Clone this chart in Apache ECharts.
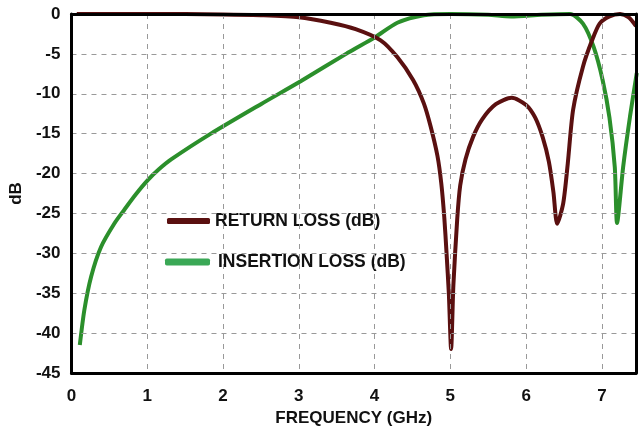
<!DOCTYPE html>
<html>
<head>
    <meta charset="utf-8">
    <title>Return / insertion loss</title>
    <script src="https://cdn.jsdelivr.net/npm/echarts@6/dist/echarts.min.js"></script>
    <style>
        html, body { margin: 0; padding: 0; background: #fff; }
        #chart1 { width: 639px; height: 439px; }
    </style>
</head>
<body>
<div id="chart1"></div>
<script type="text/javascript">
    // 读自图片的数据 (GHz, dB)
    var returnLoss = [
        [0.07, 0], [1, 0], [2, -0.05], [2.5, -0.15], [3, -0.4], [3.42, -1.1], [3.75, -1.9],
        [4.08, -3.3], [4.3, -5.4], [4.51, -8.3], [4.65, -11.2], [4.74, -14.1], [4.83, -17.8],
        [4.88, -21.2], [4.92, -25.5], [4.95, -30], [4.98, -35], [5.01, -42], [5.04, -34],
        [5.09, -25.8], [5.13, -21.5], [5.2, -18.2], [5.3, -15.4], [5.42, -13.2], [5.6, -11.3],
        [5.81, -10.5], [6.0, -11.4], [6.12, -13], [6.22, -15.5], [6.3, -18.5], [6.36, -22.3],
        [6.41, -26.3], [6.49, -23.7], [6.55, -18.7], [6.62, -12], [6.75, -6.6], [6.87, -3.3],
        [6.97, -1.2], [7.1, -0.3], [7.24, 0], [7.35, -0.4], [7.45, -1.5]
    ];
    var insertionLoss = [
        [0.11, -41.5], [0.17, -37.1], [0.26, -32.9], [0.39, -29.2], [0.57, -26.2], [0.7, -24.5],
        [0.85, -22.6], [1.01, -20.8], [1.15, -19.5], [1.32, -18.2], [1.84, -15], [2.5, -11.3],
        [3.03, -8.4], [3.64, -4.9], [4.01, -2.9], [4.3, -1.1], [4.65, -0.15], [5, 0], [5.5, -0.1],
        [5.8, -0.3], [6.2, -0.1], [6.58, 0], [6.75, -1.2], [6.89, -4.1], [7.01, -8.3], [7.1, -13],
        [7.17, -19.2], [7.2, -26.2], [7.28, -19.2], [7.37, -12.9], [7.46, -7.4]
    ];
    var seriesNames = ['RETURN LOSS (dB)', 'INSERTION LOSS (dB)'];

    var myChart1 = echarts.init(document.getElementById('chart1'));
    var font = 'Liberation Sans, Arial, sans-serif';
    var labelStyle = { fontFamily: font, fontWeight: 'bold', fontSize: 17, color: '#111' };
    var gridLine = { show: true, lineStyle: { type: [5, 5], color: '#999', width: 1 } };
    var frame = { show: true, onZero: false, lineStyle: { color: '#000', width: 3 } };

    myChart1.setOption({
        animation: false,
        backgroundColor: '#fff',
        grid: { left: 70, right: 2, top: 14, bottom: 66 },
        legend: [{
            data: [{ name: seriesNames[0], itemStyle: { color: '#5a1010' } }],
            left: 167, top: 212, padding: 0,
            icon: 'roundRect', itemWidth: 43, itemHeight: 6,
            textStyle: { fontFamily: font, fontWeight: 'bold', fontSize: 17.5, color: '#111' }
        }, {
            data: [{ name: seriesNames[1], itemStyle: { color: '#3aa856' } }],
            left: 165, top: 253, padding: 0,
            icon: 'roundRect', itemWidth: 45, itemHeight: 7,
            textStyle: { fontFamily: font, fontWeight: 'bold', fontSize: 17.5, color: '#111', padding: [0, 0, 0, 3] }
        }],
        xAxis: [{
            type: 'value',
            min: 0, max: 7.45, interval: 1,
            name: 'FREQUENCY (GHz)',
            nameLocation: 'middle', nameGap: 36,
            nameTextStyle: labelStyle,
            axisLine: frame,
            axisTick: { show: false },
            axisLabel: Object.assign({
                margin: 15,
                formatter: function (v) { return Number.isInteger(v) ? v : ''; }
            }, labelStyle),
            splitLine: gridLine,
            z: 5
        }, {
            type: 'value', position: 'top',
            min: 0, max: 7.45,
            axisLine: frame,
            axisTick: { show: false },
            axisLabel: { show: false },
            splitLine: { show: false },
            z: 5
        }],
        yAxis: [{
            type: 'value',
            min: -45, max: 0, interval: 5,
            name: 'dB',
            nameLocation: 'middle', nameGap: 46,
            nameTextStyle: labelStyle,
            axisLine: frame,
            axisTick: { show: false },
            axisLabel: Object.assign({ margin: 11 }, labelStyle),
            splitLine: gridLine,
            z: 5
        }, {
            type: 'value', position: 'right',
            min: -45, max: 0,
            axisLine: frame,
            axisTick: { show: false },
            axisLabel: { show: false },
            splitLine: { show: false },
            z: 5
        }],
        series: [{
            name: seriesNames[0],
            type: 'line',
            data: returnLoss,
            smooth: 0.25,
            showSymbol: false,
            lineStyle: { color: '#5a1010', width: 4 },
            itemStyle: { color: '#5a1010' },
            z: 3
        }, {
            name: seriesNames[1],
            type: 'line',
            data: insertionLoss,
            smooth: 0.25,
            showSymbol: false,
            lineStyle: { color: '#2b8f2b', width: 4 },
            itemStyle: { color: '#2b8f2b' },
            z: 2
        }]
    });
</script>
</body>
</html>
